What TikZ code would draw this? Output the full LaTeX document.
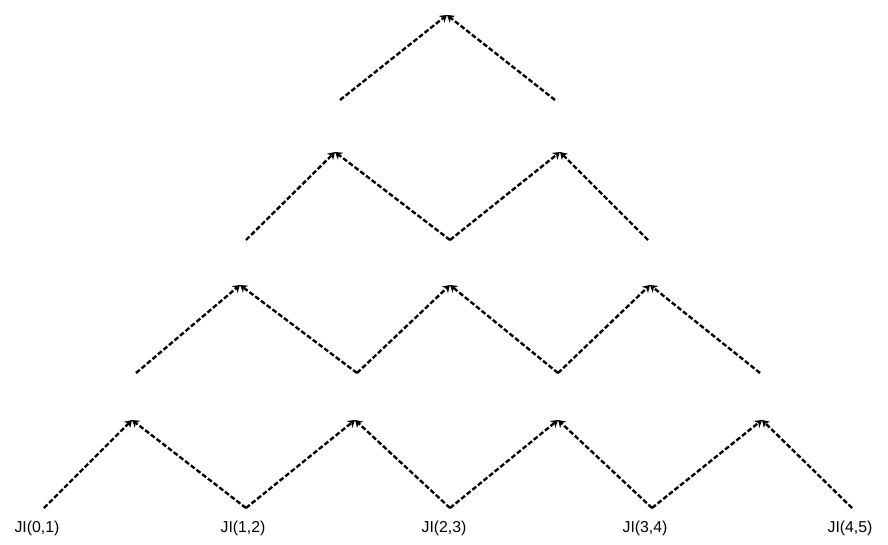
\documentclass[tikz,border=0pt]{standalone}
\usepackage{fontspec}
\setmainfont{Liberation Sans}
\usetikzlibrary{arrows.meta}

\tikzset{
  jump/.style={dash pattern=on 2.8pt off 1.3pt, line width=1.35pt,
    -{Stealth[length=4pt,width=5pt]}},
  jilabel/.style={font=\fontsize{9}{11}\selectfont, inner sep=0pt}
}

\begin{document}
\begin{tikzpicture}[x=0.02cm,y=-0.02cm]
\useasboundingbox (0,0) rectangle (888,544);
% lower and upper ends of each level
\foreach \x [count=\i from 0] in {44,246,450,652,852}
    \coordinate (b0-\i) at (\x,508);
\foreach \x [count=\i from 0] in {132,355,558,762}
    \coordinate (t0-\i) at (\x,420);
\foreach \x [count=\i from 0] in {136,357,558,760}
    \coordinate (b1-\i) at (\x,373);
\foreach \x [count=\i from 0] in {240,450,650}
    \coordinate (t1-\i) at (\x,285);
\foreach \x [count=\i from 0] in {246,450,648}
    \coordinate (b2-\i) at (\x,240);
\foreach \x [count=\i from 0] in {335,560}
    \coordinate (t2-\i) at (\x,152);
\foreach \x [count=\i from 0] in {340,555}
    \coordinate (b3-\i) at (\x,100);
\coordinate (t3-0) at (447,15);

% the jumps
\foreach \k/\n in {0/3,1/2,2/1,3/0} {
    \foreach \i in {0,...,\n} {
        \pgfmathtruncatemacro\j{\i+1}
        \draw[jump] (b\k-\i) -- (t\k-\i);
        \draw[jump] (b\k-\j) -- (t\k-\i);
    }
}

% labels
\foreach \x [count=\i from 0] in {37,243,444,645,850} {
    \pgfmathtruncatemacro\j{\i+1}
    \node[jilabel] (ji\i) at (\x,528) {JI(\i,\j)};
}
\end{tikzpicture}
\end{document}
